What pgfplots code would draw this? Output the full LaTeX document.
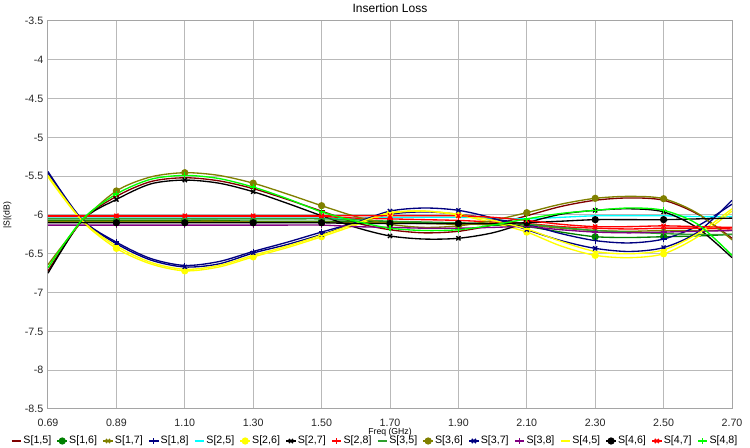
\documentclass[border=0pt]{standalone}
\usepackage{fontspec}
\setmainfont{Liberation Sans}
\usepackage{pgfplots}
\usepackage{pgfplotstable}
\pgfplotsset{compat=1.18}
\definecolor{cDR}{RGB}{128,0,0}
\definecolor{cDG}{RGB}{0,128,0}
\definecolor{cOL}{RGB}{128,128,0}
\definecolor{cNV}{RGB}{0,0,128}
\definecolor{cCY}{RGB}{0,255,255}
\definecolor{cYE}{RGB}{255,255,0}
\definecolor{cRD}{RGB}{255,0,0}
\definecolor{cMG}{RGB}{46,160,46}
\definecolor{cPU}{RGB}{128,0,128}
\definecolor{cLI}{RGB}{0,255,0}
\definecolor{cGrid}{RGB}{185,185,185}
\definecolor{cFrame}{RGB}{165,165,165}

\pgfplotstableread{
f      a15    a16   a17   a18   a25   a26   a27   a28   a35   a36    a37   a38   a45   a46   a47   a48
0.690  -6.72 -6.07 -6.08 -5.46 -6.04 -5.51 -6.75 -6.02 -6.05 -6.64  -5.44 -6.13 -5.49 -6.10 -6.01 -6.68
0.7905 -6.07 -6.07 -6.08 -6.06 -6.04 -6.08 -6.07 -6.02 -6.05 -6.08  -6.06 -6.13 -6.07 -6.10 -6.01 -6.06
0.891  -5.76 -6.07 -6.08 -6.35 -6.04 -6.43 -5.80 -6.02 -6.05 -5.69  -6.37 -6.13 -6.40 -6.10 -6.01 -5.73
0.9915 -5.57 -6.07 -6.08 -6.56 -6.04 -6.63 -5.60 -6.02 -6.05 -5.51  -6.58 -6.13 -6.61 -6.10 -6.01 -5.54
1.092  -5.52 -6.07 -6.08 -6.65 -6.04 -6.72 -5.55 -6.02 -6.05 -5.455 -6.67 -6.13 -6.70 -6.10 -6.01 -5.49
1.1925 -5.56 -6.07 -6.08 -6.60 -6.04 -6.67 -5.59 -6.02 -6.05 -5.49  -6.63 -6.13 -6.65 -6.10 -6.01 -5.53
1.293  -5.66 -6.08 -6.09 -6.47 -6.04 -6.54 -5.70 -6.02 -6.05 -5.59  -6.49 -6.13 -6.52 -6.10 -6.01 -5.64
1.3935 -5.80 -6.08 -6.09 -6.35 -6.04 -6.42 -5.85 -6.02 -6.05 -5.73  -6.38 -6.13 -6.40 -6.10 -6.01 -5.79
1.494  -5.95 -6.08 -6.09 -6.22 -6.04 -6.28 -6.01 -6.02 -6.05 -5.88  -6.25 -6.13 -6.26 -6.10 -6.01 -5.96
1.5945 -6.10 -6.08 -6.10 -6.10 -6.04 -6.13 -6.16 -6.04 -6.06 -6.02  -6.10 -6.15 -6.11 -6.11 -6.01 -6.08
1.695  -6.19 -6.09 -6.10 -5.99 -6.03 -5.98 -6.27 -6.05 -6.08 -6.12  -5.95 -6.16 -5.97 -6.11 -6.01 -6.17
1.7955 -6.23 -6.10 -6.11 -5.96 -6.03 -5.95 -6.31 -6.06 -6.09 -6.16  -5.91 -6.17 -5.95 -6.11 -6.01 -6.20
1.896  -6.21 -6.11 -6.12 -5.99 -6.03 -6.00 -6.30 -6.07 -6.10 -6.14  -5.94 -6.17 -5.99 -6.11 -6.01 -6.19
1.9965 -6.13 -6.13 -6.12 -6.05 -6.04 -6.10 -6.23 -6.09 -6.11 -6.07  -6.04 -6.16 -6.07 -6.11 -6.03 -6.13
2.097  -6.01 -6.15 -6.13 -6.12 -6.05 -6.22 -6.10 -6.11 -6.12 -5.97  -6.19 -6.15 -6.18 -6.10 -6.07 -6.05
2.1975 -5.89 -6.22 -6.17 -6.24 -6.03 -6.40 -5.99 -6.15 -6.16 -5.86  -6.33 -6.19 -6.34 -6.08 -6.12 -5.98
2.298  -5.81 -6.28 -6.20 -6.33 -6.01 -6.52 -5.94 -6.17 -6.20 -5.785 -6.43 -6.22 -6.47 -6.06 -6.15 -5.94
2.3985 -5.78 -6.29 -6.21 -6.36 -6.01 -6.55 -5.92 -6.18 -6.22 -5.76  -6.47 -6.23 -6.50 -6.06 -6.15 -5.91
2.499  -5.81 -6.28 -6.20 -6.31 -6.01 -6.50 -5.96 -6.17 -6.24 -5.79  -6.42 -6.22 -6.45 -6.06 -6.14 -5.94
2.5995 -5.99 -6.27 -6.20 -6.14 -6.02 -6.28 -6.17 -6.17 -6.25 -5.98  -6.22 -6.21 -6.24 -6.05 -6.15 -6.12
2.700  -6.30 -6.25 -6.20 -5.86 -6.02 -5.95 -6.55 -6.18 -6.25 -6.32  -5.81 -6.20 -5.92 -6.04 -6.16 -6.52
}\data

\begin{document}
\begin{tikzpicture}
\path[use as bounding box] (-36pt,-29.25pt) rectangle (526.5pt,306.75pt);
\begin{axis}[
  name=ax, at={(0,0)}, anchor=south west,
  scale only axis, width=513pt, height=291pt,
  xmin=0.69, xmax=2.70, ymin=-8.5, ymax=-3.5,
  xtick={0.69,0.891,1.092,1.293,1.494,1.695,1.896,2.097,2.298,2.499,2.70},
  xticklabels={0.69,0.89,1.10,1.30,1.50,1.70,1.90,2.10,2.30,2.50,2.70},
  ytick={-8.5,-8,-7.5,-7,-6.5,-6,-5.5,-5,-4.5,-4,-3.5},
  yticklabels={-8.5,-8,-7.5,-7,-6.5,-6,-5.5,-5,-4.5,-4,-3.5},
  grid=major,
  major grid style={draw=cGrid, line width=0.75pt},
  axis line style={draw=cFrame, line width=0.75pt},
  major tick length=0pt,
  tick label style={font=\fontsize{8}{9.6}\selectfont, text=black!85},
  xticklabel style={yshift=-4pt},
  legend style={at={(0.478,-0.0825)}, anchor=center, legend columns=16,
    draw=none, fill=none, font=\fontsize{8}{9.6}\selectfont,
    /tikz/every even column/.append style={column sep=3pt},
    inner sep=0pt, nodes={inner xsep=1.1pt, inner ysep=0pt}},
  legend image code/.code={\draw[mark indices={2}] plot coordinates {(0pt,0pt) (3.6pt,0pt) (7.2pt,0pt)};},
  every axis plot/.append style={line width=1pt, smooth, mark size=2.2pt,
    mark indices={3,5,7,9,11,13,15,17,19}, mark options={solid, line width=1pt}},
]
\addplot[color=cDR, mark=-] table[x=f,y=a15] {\data}; \addlegendentry{S[1,5]}
\addplot[color=cDG, mark=*] table[x=f,y=a16] {\data}; \addlegendentry{S[1,6]}
\addplot[color=cOL, mark=x] table[x=f,y=a17] {\data}; \addlegendentry{S[1,7]}
\addplot[color=cNV, mark=+] table[x=f,y=a18] {\data}; \addlegendentry{S[1,8]}
\addplot[color=cCY, mark=-] table[x=f,y=a25] {\data}; \addlegendentry{S[2,5]}
\addplot[color=cYE, mark=*] table[x=f,y=a26] {\data}; \addlegendentry{S[2,6]}
\addplot[color=black, mark=x] table[x=f,y=a27] {\data}; \addlegendentry{S[2,7]}
\addplot[color=cRD, mark=+] table[x=f,y=a28] {\data}; \addlegendentry{S[2,8]}
\addplot[color=cMG, mark=-] table[x=f,y=a35] {\data}; \addlegendentry{S[3,5]}
\addplot[color=cOL, mark=*] table[x=f,y=a36] {\data}; \addlegendentry{S[3,6]}
\addplot[color=cNV, mark=x] table[x=f,y=a37] {\data}; \addlegendentry{S[3,7]}
\addplot[color=cPU, mark=+] table[x=f,y=a38] {\data}; \addlegendentry{S[3,8]}
\addplot[color=cYE, mark=-] table[x=f,y=a45] {\data}; \addlegendentry{S[4,5]}
\addplot[color=black, mark=*] table[x=f,y=a46] {\data}; \addlegendentry{S[4,6]}
\addplot[color=cRD, mark=x] table[x=f,y=a47] {\data}; \addlegendentry{S[4,7]}
\addplot[color=cLI, mark=+] table[x=f,y=a48] {\data}; \addlegendentry{S[4,8]}
\end{axis}
\node[font=\fontsize{9}{10}\selectfont] at ([yshift=9.75pt]ax.north) {Insertion Loss};
\node[font=\fontsize{6.5}{7}\selectfont] at ([yshift=-17.25pt]ax.south) {Freq (GHz)};
\node[font=\fontsize{6.5}{7}\selectfont, rotate=90] at ([xshift=-30.4pt]ax.west) {|S|(dB)};
\end{tikzpicture}
\end{document}
